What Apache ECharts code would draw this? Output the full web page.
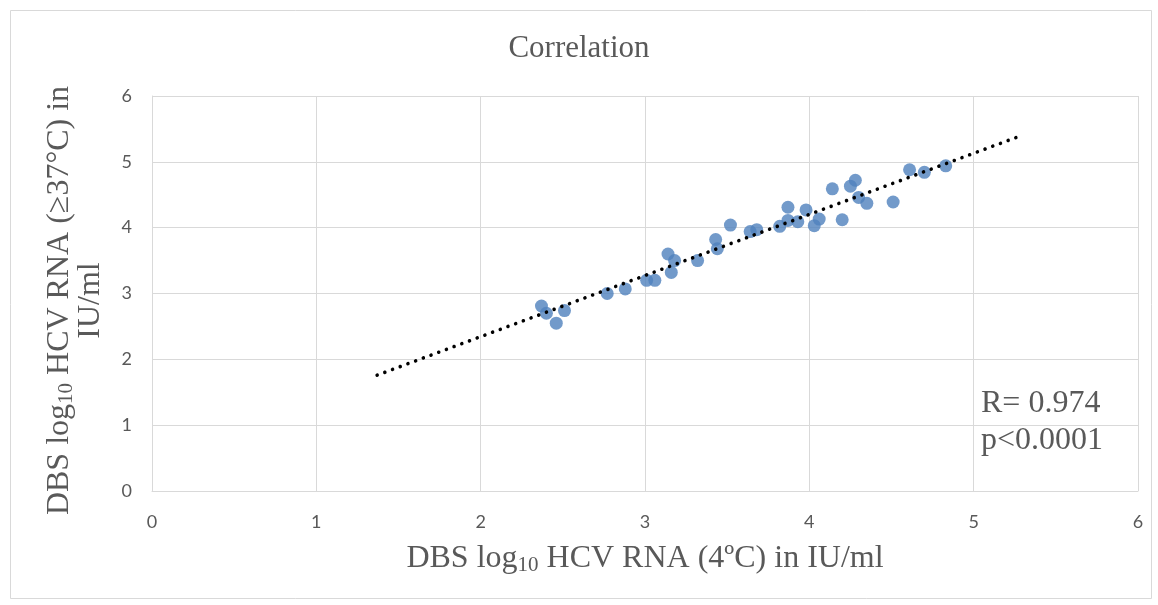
<!DOCTYPE html>
<html>
<head>
<meta charset="utf-8">
<title>Correlation</title>
<script src="https://cdn.jsdelivr.net/npm/echarts@6/dist/echarts.min.js"></script>
<style>
  html, body { margin: 0; padding: 0; background: #fff; }
  #chart { width: 1158px; height: 605px; }
</style>
</head>
<body>
<div id="chart"></div>
<script>
// DBS log10 HCV RNA, 4ºC storage (x) vs >=37°C storage (y)
var x4C = [2.37, 2.40, 2.46, 2.51, 2.77, 2.88, 3.01, 3.06, 3.14, 3.18, 3.16, 3.32,
           3.43, 3.44, 3.52, 3.64, 3.68, 3.82, 3.87, 3.87, 3.93, 3.98, 4.03, 4.06,
           4.14, 4.20, 4.25, 4.28, 4.30, 4.35, 4.51, 4.61, 4.70, 4.83];
var y37C = [2.81, 2.70, 2.55, 2.74, 3.00, 3.07, 3.20, 3.20, 3.60, 3.50, 3.32, 3.50,
            3.82, 3.68, 4.04, 3.94, 3.97, 4.02, 4.31, 4.11, 4.09, 4.27, 4.03, 4.13,
            4.59, 4.12, 4.63, 4.72, 4.46, 4.37, 4.39, 4.88, 4.84, 4.94];
// linear trendline end points (as drawn, with forecast)
var trendX = [1.37, 5.28];
var trendY = [1.76, 5.39];
var axisTicks = [0, 1, 2, 3, 4, 5, 6];
var statLines = ['R= 0.974', 'p<0.0001'];

var chart = echarts.init(document.getElementById('chart'));

var points = x4C.map(function (v, i) { return [v, y37C[i]]; });
var trend = trendX.map(function (v, i) { return [v, trendY[i]]; });

var serif = '"Liberation Serif", "Times New Roman", serif';
var grey = '#595959';
var gridGrey = '#d9d9d9';

var option = {
  backgroundColor: '#fff',
  animation: false,
  title: {
    text: 'Correlation',
    left: 'center',
    top: 28,
    textStyle: { fontFamily: serif, fontSize: 31, fontWeight: 'normal', color: grey }
  },
  grid: { left: 152, right: 20, top: 96, bottom: 114 },
  xAxis: {
    type: 'value',
    min: axisTicks[0],
    max: axisTicks[axisTicks.length - 1],
    interval: 1,
    name: 'DBS log{sub|10} HCV RNA (4ºC) in IU/ml',
    nameLocation: 'middle',
    nameGap: 50,
    nameTextStyle: {
      fontFamily: serif, fontSize: 32, color: grey,
      rich: { sub: { fontFamily: serif, fontSize: 21, color: grey, padding: [14, 0, 0, 0] } }
    },
    axisLine: { show: true, lineStyle: { color: gridGrey, width: 1 } },
    axisTick: { show: false },
    axisLabel: { margin: 22, fontFamily: 'Lato', fontSize: 18, color: grey },
    splitLine: { show: true, lineStyle: { color: gridGrey, width: 1 } }
  },
  yAxis: {
    type: 'value',
    min: axisTicks[0],
    max: axisTicks[axisTicks.length - 1],
    interval: 1,
    name: 'DBS log{sub|10} HCV RNA (≥37°C) in\nIU/ml',
    nameLocation: 'middle',
    nameRotate: 90,
    nameGap: 46,
    nameTextStyle: {
      fontFamily: serif, fontSize: 32, color: grey, lineHeight: 31,
      padding: [0, 14, 0, 0],
      rich: { sub: { fontFamily: serif, fontSize: 21, color: grey, padding: [14, 0, 0, 0] } }
    },
    axisLine: { show: true, lineStyle: { color: gridGrey, width: 1 } },
    axisTick: { show: false },
    axisLabel: { margin: 20, fontFamily: 'Lato', fontSize: 18, color: grey },
    splitLine: { show: true, lineStyle: { color: gridGrey, width: 1 } }
  },
  series: [
    {
      name: 'samples',
      type: 'scatter',
      data: points,
      symbol: 'circle',
      symbolSize: 13,
      itemStyle: { color: '#4f81bd' },
      z: 2
    },
    {
      name: 'trend',
      type: 'line',
      data: trend,
      showSymbol: false,
      symbol: 'none',
      lineStyle: { color: '#000', width: 3.6, type: [0.01, 8.2], cap: 'round' },
      z: 3
    }
  ],
  graphic: [
    {
      type: 'rect',
      left: 8, top: 8,
      shape: { width: 1141, height: 588 },
      style: { fill: 'none', stroke: gridGrey, lineWidth: 1 },
      silent: true
    },
    {
      type: 'text',
      left: 981, top: 385,
      style: {
        text: statLines.join('\n'),
        font: '32px ' + serif,
        lineHeight: 37,
        fill: grey
      }
    }
  ]
};

chart.setOption(option);
</script>
</body>
</html>
